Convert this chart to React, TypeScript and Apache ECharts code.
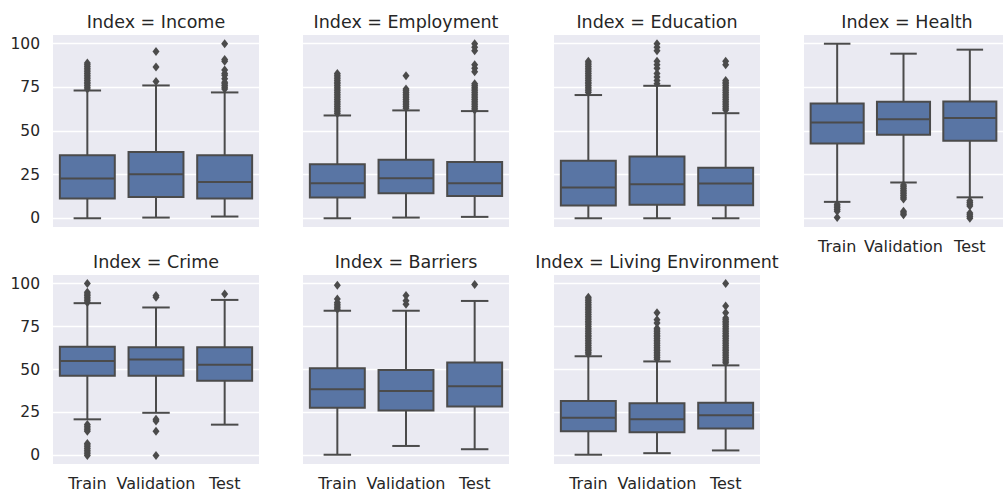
import React, { useEffect, useRef } from "react";
import * as echarts from "echarts";

const categories = ["Train", "Validation", "Test"];
const panelTitles = ["Index = Income", "Index = Employment", "Index = Education", "Index = Health", "Index = Crime", "Index = Barriers", "Index = Living Environment"];
const yTicks = [0, 25, 50, 75, 100];

// [min whisker, Q1, median, Q3, max whisker] for Train, Validation, Test
const incomeBoxes = [[0, 11.3, 22.8, 36.1, 73.2], [0.4, 12.2, 25.2, 37.9, 76.1], [1, 11.3, 20.8, 36.1, 72.1]];
const employmentBoxes = [[0, 11.9, 20.1, 31.0, 58.9], [0.4, 14.3, 22.9, 33.5, 61.8], [0.8, 12.8, 20.1, 32.3, 61.4]];
const educationBoxes = [[0, 7.3, 17.6, 32.9, 70.6], [0, 7.8, 19.5, 35.4, 75.9], [0, 7.5, 19.9, 28.9, 60.2]];
const healthBoxes = [[9.4, 42.8, 54.9, 65.8, 100], [20.5, 47.8, 56.8, 66.7, 94.3], [12.0, 44.4, 57.4, 66.9, 96.6]];
const crimeBoxes = [[21.0, 46.3, 54.9, 63.2, 88.6], [24.8, 46.3, 55.8, 62.9, 86.1], [17.9, 43.4, 52.8, 62.9, 90.5]];
const barriersBoxes = [[0.4, 27.8, 38.5, 50.7, 84.2], [5.5, 26.1, 37.5, 49.7, 84.2], [3.6, 28.4, 40.2, 54.1, 89.9]];
const livingBoxes = [[0.4, 14.1, 21.9, 31.6, 57.7], [1.3, 13.5, 21.0, 30.3, 54.7], [2.9, 15.6, 23.4, 30.7, 52.4]];

// outliers for Train, Validation, Test
const incomeOutliers = [
  [74, 75, 76, 77, 78, 79, 80, 81, 82, 83, 84, 85, 86, 87, 88, 89],
  [78.4, 86.6, 95.6],
  [74, 75, 76, 77, 78, 80, 82, 83, 85, 90, 91, 100],
];
const employmentOutliers = [
  [60, 61, 62, 63, 64, 65, 66, 67, 68, 69, 70, 71, 72, 73, 74, 75, 76, 77, 78, 79, 80, 81, 82, 83],
  [63, 64, 65, 66, 67, 68, 69, 70, 71, 72, 73, 74, 81.6],
  [62, 63, 64, 65, 66, 67, 68, 69, 70, 71, 72, 73, 74, 75, 76, 77, 84, 86, 88, 96, 98, 100],
];
const educationOutliers = [
  [72, 73, 74, 75, 76, 77, 78, 79, 80, 81, 82, 83, 84, 85, 86, 87, 88, 89, 90],
  [77, 79, 81, 83, 86, 88, 90, 96, 98, 100],
  [62, 63, 64, 65, 66, 67, 68, 69, 70, 71, 72, 73, 74, 75, 76, 77, 78, 79, 88, 90],
];
const healthOutliers = [
  [0.5, 4, 5, 6, 7, 8],
  [2, 3, 4, 11, 12, 13, 14, 15, 16, 17, 18, 19],
  [0, 1, 2, 3, 7, 8, 9, 10],
];
const crimeOutliers = [
  [89, 90, 91, 92, 93, 94, 95, 100, 14, 15, 16, 17, 18, 0, 1, 2, 3, 4, 5, 6, 7],
  [92, 93, 20, 21, 14, 0],
  [94],
];
const barriersOutliers = [
  [85, 86, 87, 88, 89, 91, 99],
  [88, 90, 93],
  [99.5],
];
const livingOutliers = [
  [59, 60, 61, 62, 63, 64, 65, 66, 67, 68, 69, 70, 71, 72, 73, 74, 75, 76, 77, 78, 79, 80, 81, 82, 83, 84, 85, 86, 87, 88, 89, 90, 91, 92],
  [56, 57, 58, 59, 60, 61, 62, 63, 64, 65, 66, 67, 68, 69, 70, 71, 72, 73, 74, 77, 79, 83],
  [54, 55, 56, 57, 58, 59, 60, 61, 62, 63, 64, 65, 66, 67, 68, 69, 70, 71, 72, 73, 74, 75, 76, 77, 78, 79, 80, 83, 87, 100],
];

const allBoxes = [incomeBoxes, employmentBoxes, educationBoxes, healthBoxes, crimeBoxes, barriersBoxes, livingBoxes];
const allOutliers = [incomeOutliers, employmentOutliers, educationOutliers, healthOutliers, crimeOutliers, barriersOutliers, livingOutliers];

const FONT = "DejaVu Sans";
const TEXT = "#262626";
const GRAY = "#4b4b4b";
const BLUE = "#5975a4";
const BG = "#eaeaf2";

const colLefts = [53, 303, 554, 804];
const rowTops = [35, 275];
const PW = 206;
const PH = 192;

export default function App() {
  const ref = useRef<HTMLDivElement>(null);
  useEffect(() => {
    if (!ref.current) return;
    const chart = echarts.init(ref.current, null, { renderer: "svg" });
    const grids: any[] = [];
    const xAxes: any[] = [];
    const yAxes: any[] = [];
    const series: any[] = [];
    const graphics: any[] = [];
    for (let i = 0; i < 7; i++) {
      const row = Math.floor(i / 4);
      const col = i % 4;
      const left = colLefts[col];
      const top = rowTops[row];
      grids.push({ left, top, width: PW, height: PH, show: true, backgroundColor: BG, borderWidth: 0 });
      const showX = row === 1 || i === 3;
      xAxes.push({
        type: "category",
        gridIndex: i,
        data: categories,
        axisLine: { show: false },
        axisTick: { show: false },
        splitLine: { show: false },
        axisLabel: { show: showX, interval: 0, hideOverlap: false, color: TEXT, fontFamily: FONT, fontSize: 16, margin: 11 },
      });
      yAxes.push({
        type: "value",
        gridIndex: i,
        min: -5,
        max: 105,
        axisLine: { show: false },
        axisTick: { show: false, customValues: yTicks },
        splitLine: { show: true, customValues: yTicks, lineStyle: { color: "#ffffff", width: 1.3 } },
        axisLabel: { show: col === 0, customValues: yTicks, color: TEXT, fontFamily: FONT, fontSize: 15.5, margin: 13 },
      });
      const boxData = allBoxes[i].map((b, k) => [k, ...b]);
      series.push({
        type: "custom",
        xAxisIndex: i,
        yAxisIndex: i,
        encode: { x: 0, y: [1, 2, 3, 4, 5] },
        data: boxData,
        z: 2,
        renderItem: (params: any, api: any) => {
          const cat = api.value(0);
          const lo = api.coord([cat, api.value(1)]);
          const q1 = api.coord([cat, api.value(2)]);
          const md = api.coord([cat, api.value(3)]);
          const q3 = api.coord([cat, api.value(4)]);
          const hi = api.coord([cat, api.value(5)]);
          const bw = api.size([1, 0])[0] * 0.8;
          const cw = bw / 2;
          const x = lo[0];
          const ls = { stroke: GRAY, lineWidth: 2, fill: null };
          return {
            type: "group",
            children: [
              { type: "line", shape: { x1: x, y1: lo[1], x2: x, y2: q1[1] }, style: ls },
              { type: "line", shape: { x1: x, y1: q3[1], x2: x, y2: hi[1] }, style: ls },
              { type: "line", shape: { x1: x - cw / 2, y1: lo[1], x2: x + cw / 2, y2: lo[1] }, style: ls },
              { type: "line", shape: { x1: x - cw / 2, y1: hi[1], x2: x + cw / 2, y2: hi[1] }, style: ls },
              { type: "rect", shape: { x: x - bw / 2, y: q3[1], width: bw, height: q1[1] - q3[1] }, style: { fill: BLUE, stroke: GRAY, lineWidth: 2 } },
              { type: "line", shape: { x1: x - bw / 2, y1: md[1], x2: x + bw / 2, y2: md[1] }, style: ls },
            ],
          };
        },
      });
      const outData: number[][] = [];
      allOutliers[i].forEach((arr, k) => arr.forEach((v) => outData.push([k, v])));
      series.push({
        type: "scatter",
        xAxisIndex: i,
        yAxisIndex: i,
        data: outData,
        symbol: "diamond",
        symbolSize: [7, 9],
        itemStyle: { color: GRAY, opacity: 1 },
        z: 3,
      });
      graphics.push({
        type: "text",
        x: left + PW / 2,
        y: row === 0 ? 22 : 262,
        style: { text: panelTitles[i], fill: TEXT, font: `17.5px "${FONT}"`, textAlign: "center", textVerticalAlign: "middle" },
      });
    }
    chart.setOption({
      animation: false,
      backgroundColor: "#ffffff",
      grid: grids,
      xAxis: xAxes,
      yAxis: yAxes,
      series,
      graphic: graphics,
    });
    return () => chart.dispose();
  }, []);
  return <div ref={ref} style={{ position: "fixed", left: 0, top: 0, width: 1003, height: 491 }} />;
}
